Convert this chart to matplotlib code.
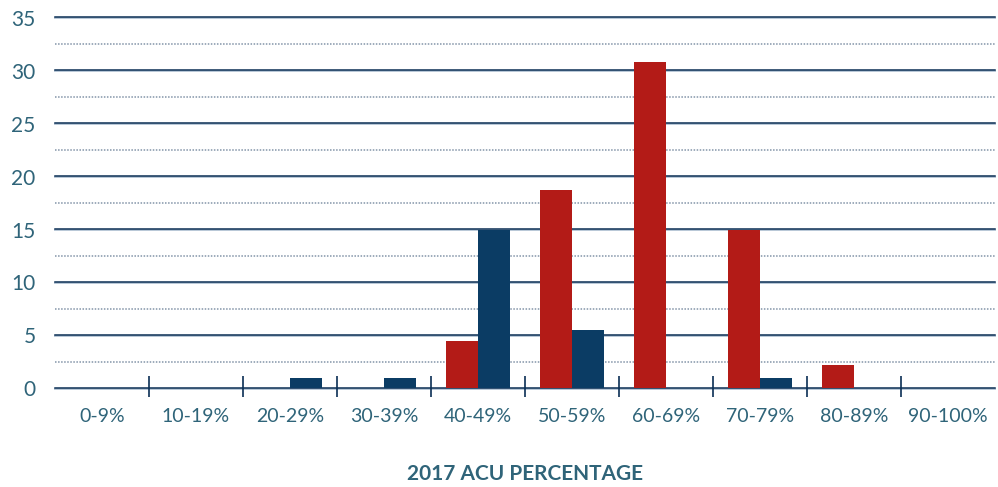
import numpy as np
import matplotlib
matplotlib.use("Agg")
import matplotlib.pyplot as plt

plt.rcParams['font.family'] = ['Lato', 'DejaVu Sans']

categories = ['0-9%', '10-19%', '20-29%', '30-39%', '40-49%',
              '50-59%', '60-69%', '70-79%', '80-89%', '90-100%']
red_vals = [0, 0, 0, 0, 4.5, 18.7, 30.8, 15.0, 2.2, 0]
navy_vals = [0, 0, 1, 1, 15.0, 5.5, 0, 1, 0, 0]

red = '#B31B17'
navy = '#0B3C64'
text_col = '#2F6479'
grid_col = '#0B2F55'

fig = plt.figure(figsize=(9.98, 4.87), dpi=100)
ax = fig.add_axes([0.0551, 0.2023, 0.9419, 0.7617])

x = np.arange(len(categories))
w = 0.345

# grid lines (dark line with a faint light line under it)
for v in np.arange(0, 36, 5):
    ax.axhline(v - 0.08, color='#b8c7d6', lw=1.4, zorder=0, clip_on=False)
    ax.axhline(v + 0.02, color=grid_col, lw=1.1, zorder=1, clip_on=False)
for v in np.arange(2.5, 35, 5):
    ax.axhline(v, color='#8394a8', lw=1.1, ls=(0, (1, 1)), zorder=1)

ax.bar(x - w / 2, red_vals, width=w, color=red, zorder=3)
ax.bar(x + w / 2, navy_vals, width=w, color=navy, zorder=3)

# category separators at the bottom
ax.vlines(np.arange(0.5, 9.5, 1), -0.85, 1.15, color=grid_col, lw=1.2,
          clip_on=False, zorder=4)

ax.set_xlim(-0.5, 9.5)
ax.set_ylim(0, 35)
ax.set_yticks(np.arange(0, 36, 5))
ax.set_xticks(x)
ax.set_xticklabels(categories)
ax.tick_params(axis='both', length=0, labelsize=14, labelcolor=text_col)
ax.tick_params(axis='y', labelsize=15, pad=14)
ax.tick_params(axis='x', pad=14)
for s in ax.spines.values():
    s.set_visible(False)

ax.set_xlabel('2017 ACU PERCENTAGE', fontsize=15, fontweight='bold',
              color=text_col, labelpad=28)

fig.savefig('out.png', dpi=100)
